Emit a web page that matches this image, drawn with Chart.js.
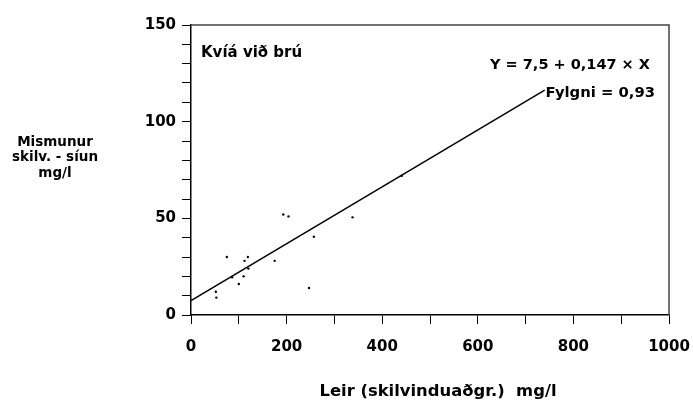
<!DOCTYPE html>
<html>
<head>
<meta charset="utf-8">
<script src="https://cdn.jsdelivr.net/npm/chart.js@4.4.1/dist/chart.umd.min.js"></script>
<style>
html,body{margin:0;padding:0;background:#fff;}
#wrap{width:693px;height:404px;position:relative;}
</style>
</head>
<body>
<div id="wrap"><canvas id="c" width="693" height="404"></canvas></div>
<script>
// Data
const leirX = [52, 53, 75, 86, 100, 110, 112, 119, 120, 175, 193, 204, 247, 257, 338, 441];
const mismunurY = [12, 9, 30, 19.5, 16, 20, 28, 30, 24, 28, 52, 51, 14, 40.5, 50.5, 72];
const intercept = [7.5];
const slope = [0.147];
const lineXRange = [0, 740];
const xTickLabels = [0, 200, 400, 600, 800, 1000];
const yTickLabels = [0, 50, 100, 150];
const stationName = 'Kvíá við brú';
const equationText = 'Y = 7,5 + 0,147 \u00d7 X';
const correlationText = 'Fylgni = 0,93';
const yTitleLines = ['Mismunur', 'skilv. - síun', 'mg/l'];
const xTitle = 'Leir (skilvinduaðgr.)  mg/l';

const FONT = '"DejaVu Sans", Verdana, sans-serif';

const scatterData = leirX.map((x, i) => ({x: x, y: mismunurY[i]}));
const lineData = lineXRange.map(x => ({x: x, y: intercept[0] + slope[0] * x}));

const textPlugin = {
  id: 'texts',
  afterDraw(chart) {
    const ctx = chart.ctx;
    const a = chart.chartArea;
    ctx.save();
    // frame top/right
    ctx.strokeStyle = '#444';
    ctx.lineWidth = 1.5;
    ctx.beginPath();
    ctx.moveTo(a.left, a.top);
    ctx.lineTo(a.right, a.top);
    ctx.lineTo(a.right, a.bottom);
    ctx.stroke();
    ctx.fillStyle = '#000';
    ctx.textBaseline = 'middle';
    ctx.font = 'bold 15px ' + FONT;
    ctx.textAlign = 'left';
    ctx.fillText(stationName, a.left + 10, a.top + 28);
    ctx.font = 'bold 14.5px ' + FONT;
    ctx.textAlign = 'right';
    ctx.fillText(equationText, a.right - 19, a.top + 40);
    ctx.font = 'bold 14.8px ' + FONT;
    ctx.fillText(correlationText, a.right - 14, a.top + 68);
    // y title
    ctx.font = 'bold 13.5px ' + FONT;
    ctx.textAlign = 'center';
    yTitleLines.forEach((t, i) => ctx.fillText(t, 55, 142 + i * 15.5));
    // x title
    ctx.font = 'bold 16.4px ' + FONT;
    ctx.fillText(xTitle, 438, 392);
    ctx.restore();
  }
};

new Chart(document.getElementById('c'), {
  data: {
    datasets: [
      {
        type: 'scatter',
        data: scatterData,
        pointRadius: 1.2,
        pointBackgroundColor: '#000',
        pointBorderWidth: 0,
        pointBorderColor: '#000'
      },
      {
        type: 'line',
        data: lineData,
        borderColor: '#000',
        borderWidth: 1.5,
        pointRadius: 0,
        fill: false
      }
    ]
  },
  options: {
    responsive: false,
    animation: false,
    events: [],
    layout: {padding: {left: 131, right: 24, top: 25, bottom: 44}},
    plugins: {legend: {display: false}, tooltip: {enabled: false}},
    scales: {
      x: {
        type: 'linear',
        min: 0, max: 1000,
        afterFit: s => { s.height = 45; s.paddingLeft = 0; s.paddingRight = 0; },
        grid: {drawOnChartArea: false, color: '#000', tickLength: 9, lineWidth: 1},
        border: {color: '#000', width: 1.5},
        ticks: {
          stepSize: 100,
          color: '#000',
          padding: 14,
          maxRotation: 0,
          autoSkip: false,
          font: {family: FONT, size: 15, weight: 'bold'},
          callback: v => xTickLabels.includes(v) ? String(v) : ''
        }
      },
      y: {
        type: 'linear',
        min: 0, max: 150,
        afterFit: s => { s.width = 60; s.paddingTop = 0; s.paddingBottom = 0; },
        grid: {drawOnChartArea: false, color: '#000', tickLength: 9, lineWidth: 1},
        border: {color: '#000', width: 1.5},
        ticks: {
          stepSize: 10,
          color: '#000',
          padding: 6,
          autoSkip: false,
          font: {family: FONT, size: 15, weight: 'bold'},
          callback: v => yTickLabels.includes(v) ? String(v) : ''
        }
      }
    }
  },
  plugins: [textPlugin]
});
</script>
</body>
</html>
